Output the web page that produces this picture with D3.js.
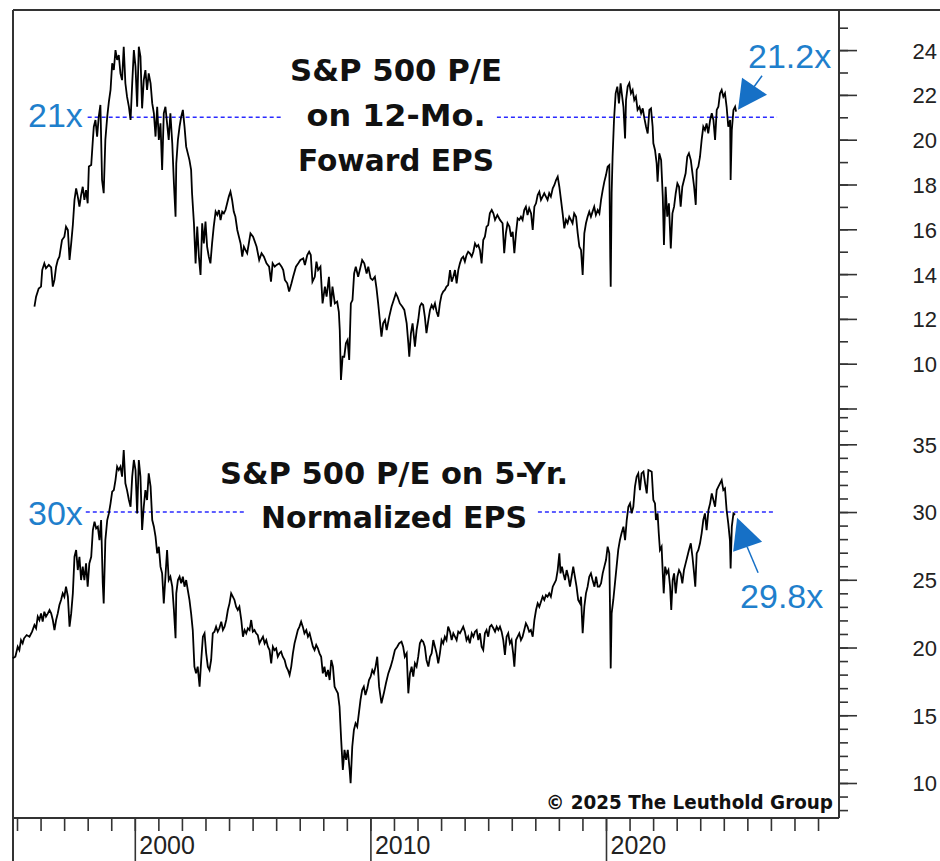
<!DOCTYPE html>
<html><head><meta charset="utf-8">
<script src="https://cdn.jsdelivr.net/npm/d3@7"></script>
<style>html,body{margin:0;padding:0;background:#fff}svg{display:block}</style>
</head><body>
<svg id="c" width="940" height="861"></svg>
<script>
// ---------------- DATA ----------------
// S&P 500 P/E on 12-month forward EPS: [decimal year, P/E]
const fwdPE = [
[1995.74,12.55],[1995.81,12.99],[1995.92,13.36],[1996.02,13.44],[1996.07,14.18],[1996.16,14.48],[1996.23,14.26],[1996.35,14.41],[1996.45,14.30],[1996.52,13.44],
[1996.59,13.74],[1996.66,14.33],[1996.73,14.63],[1996.80,14.78],[1996.91,15.52],[1997.01,15.67],[1997.08,16.12],[1997.16,15.97],[1997.23,14.63],[1997.30,15.37],
[1997.37,16.19],[1997.44,17.31],[1997.51,17.83],[1997.58,17.46],[1997.65,17.01],[1997.72,17.53],[1997.79,17.90],[1997.86,17.31],[1997.93,17.75],[1998.00,17.16],
[1998.05,18.80],[1998.15,18.87],[1998.22,19.99],[1998.26,20.58],[1998.33,20.88],[1998.40,20.14],[1998.47,21.03],[1998.54,21.55],[1998.61,18.20],[1998.68,17.61],
[1998.75,19.99],[1998.83,21.03],[1998.90,21.70],[1998.97,22.22],[1999.04,23.41],[1999.11,23.11],[1999.18,24.00],[1999.25,23.56],[1999.32,23.78],[1999.39,22.96],
[1999.46,22.66],[1999.53,24.15],[1999.60,22.52],[1999.67,21.92],[1999.75,21.47],[1999.82,20.88],[1999.89,22.52],[1999.96,24.00],[2000.03,23.26],[2000.10,21.47],
[2000.17,24.15],[2000.24,23.71],[2000.31,21.40],[2000.38,22.66],[2000.45,23.11],[2000.52,22.22],[2000.59,22.96],[2000.67,22.52],[2000.74,21.62],[2000.81,21.18],
[2000.88,20.14],[2000.95,21.47],[2001.02,19.99],[2001.09,20.73],[2001.16,18.65],[2001.23,21.18],[2001.30,21.47],[2001.37,20.73],[2001.44,19.99],[2001.51,21.18],
[2001.59,19.84],[2001.66,18.05],[2001.73,16.56],[2001.76,18.94],[2001.83,19.99],[2001.90,20.58],[2001.97,21.03],[2002.04,21.33],[2002.11,20.58],[2002.18,19.69],
[2002.25,19.39],[2002.32,19.09],[2002.39,18.65],[2002.43,17.61],[2002.51,16.27],[2002.58,14.48],[2002.65,16.12],[2002.72,14.78],[2002.79,13.96],[2002.86,16.27],
[2002.93,15.37],[2003.00,16.34],[2003.07,15.22],[2003.14,14.78],[2003.21,14.48],[2003.28,15.37],[2003.35,16.12],[2003.43,16.79],[2003.50,16.64],[2003.57,16.86],
[2003.64,16.41],[2003.71,16.79],[2003.78,16.71],[2003.85,16.86],[2003.92,17.16],[2003.99,17.46],[2004.06,17.68],[2004.13,17.31],[2004.20,16.79],[2004.27,16.56],
[2004.35,15.97],[2004.42,15.67],[2004.49,15.37],[2004.56,14.78],[2004.63,15.22],[2004.70,15.07],[2004.77,14.93],[2004.84,15.37],[2004.91,15.82],[2005.02,15.67],
[2005.17,15.22],[2005.28,14.63],[2005.38,14.93],[2005.48,14.78],[2005.59,14.48],[2005.70,14.33],[2005.78,13.66],[2005.85,14.48],[2005.94,14.33],[2006.02,14.41],
[2006.13,14.48],[2006.23,14.33],[2006.30,14.18],[2006.37,13.74],[2006.47,13.59],[2006.55,13.22],[2006.65,13.59],[2006.72,13.88],[2006.84,14.33],[2006.94,14.48],
[2007.03,14.63],[2007.15,14.70],[2007.22,14.41],[2007.32,14.85],[2007.40,15.00],[2007.47,14.85],[2007.54,13.66],[2007.64,13.88],[2007.71,14.56],[2007.78,14.18],
[2007.88,14.33],[2007.97,12.69],[2008.07,13.44],[2008.14,12.99],[2008.24,13.88],[2008.32,12.55],[2008.39,13.44],[2008.49,12.69],[2008.59,12.77],[2008.66,12.32],
[2008.70,11.50],[2008.75,9.27],[2008.82,10.31],[2008.89,10.31],[2008.96,10.91],[2009.03,11.06],[2009.10,10.17],[2009.17,12.69],[2009.24,12.84],[2009.31,14.03],
[2009.38,14.33],[2009.48,13.88],[2009.55,14.18],[2009.65,14.63],[2009.74,14.48],[2009.84,14.03],[2009.91,14.33],[2010.01,13.81],[2010.09,13.74],[2010.19,13.88],
[2010.26,13.36],[2010.33,12.69],[2010.40,11.95],[2010.47,11.21],[2010.54,11.80],[2010.62,11.95],[2010.69,11.50],[2010.80,12.10],[2010.90,12.55],[2010.99,12.84],
[2011.08,13.14],[2011.15,12.99],[2011.25,12.69],[2011.35,12.55],[2011.44,12.40],[2011.54,11.80],[2011.61,10.91],[2011.65,10.31],[2011.72,11.36],[2011.79,11.80],
[2011.89,10.76],[2011.96,11.50],[2012.03,11.95],[2012.10,12.55],[2012.17,12.69],[2012.24,12.62],[2012.31,12.10],[2012.38,11.36],[2012.46,11.95],[2012.53,12.40],
[2012.60,12.62],[2012.67,12.47],[2012.74,12.69],[2012.81,12.32],[2012.88,12.10],[2012.95,12.69],[2013.02,13.07],[2013.09,13.22],[2013.16,13.29],[2013.23,13.44],
[2013.30,13.51],[2013.38,14.18],[2013.45,13.66],[2013.52,13.88],[2013.59,14.18],[2013.66,13.59],[2013.73,14.18],[2013.80,14.48],[2013.87,14.70],[2013.94,14.78],
[2014.01,14.56],[2014.08,14.85],[2014.15,15.00],[2014.22,14.93],[2014.30,14.78],[2014.37,15.00],[2014.44,15.37],[2014.51,15.22],[2014.58,15.30],[2014.65,15.07],
[2014.72,14.48],[2014.79,15.52],[2014.86,15.67],[2014.93,16.12],[2015.00,16.19],[2015.07,16.71],[2015.15,16.86],[2015.22,16.71],[2015.29,16.42],[2015.39,16.64],
[2015.50,16.42],[2015.61,16.27],[2015.68,14.93],[2015.75,15.82],[2015.82,16.27],[2015.90,16.12],[2015.97,15.67],[2016.04,15.89],[2016.11,14.93],[2016.18,15.82],
[2016.25,16.49],[2016.32,16.42],[2016.39,16.56],[2016.46,16.42],[2016.53,16.86],[2016.60,17.01],[2016.67,16.64],[2016.74,16.94],[2016.82,16.71],[2016.89,15.97],
[2016.96,17.01],[2017.03,17.16],[2017.10,17.53],[2017.17,17.68],[2017.24,17.31],[2017.31,17.46],[2017.38,17.61],[2017.45,17.46],[2017.52,17.31],[2017.59,17.61],
[2017.66,17.46],[2017.74,17.83],[2017.81,17.98],[2017.88,18.20],[2017.95,18.35],[2018.02,17.90],[2018.09,17.31],[2018.16,16.71],[2018.23,16.04],[2018.30,16.42],
[2018.37,16.27],[2018.44,16.56],[2018.51,16.42],[2018.58,16.27],[2018.65,16.71],[2018.73,16.56],[2018.80,15.82],[2018.87,15.22],[2018.94,15.08],[2019.01,13.96],
[2019.08,15.82],[2019.15,16.27],[2019.22,16.56],[2019.29,16.79],[2019.36,16.56],[2019.43,16.79],[2019.50,17.01],[2019.57,16.64],[2019.65,16.86],[2019.72,16.71],
[2019.79,17.31],[2019.86,17.75],[2019.93,18.13],[2020.00,18.42],[2020.07,18.80],[2020.14,18.87],[2020.18,14.78],[2020.20,13.44],[2020.24,17.61],[2020.28,19.24],
[2020.34,20.88],[2020.41,22.07],[2020.48,22.37],[2020.55,21.62],[2020.62,22.52],[2020.67,22.07],[2020.74,21.47],[2020.81,20.06],[2020.85,21.77],[2020.92,22.37],
[2020.99,22.52],[2021.06,22.07],[2021.13,22.22],[2021.20,21.77],[2021.27,21.92],[2021.34,21.33],[2021.42,21.47],[2021.49,21.18],[2021.56,21.40],[2021.63,20.95],
[2021.70,20.58],[2021.77,20.28],[2021.84,21.33],[2021.91,21.40],[2021.98,20.58],[2022.01,19.84],[2022.08,19.54],[2022.15,18.94],[2022.19,18.13],[2022.26,19.39],
[2022.34,19.09],[2022.41,17.46],[2022.46,15.30],[2022.53,17.90],[2022.60,16.56],[2022.67,17.16],[2022.75,15.15],[2022.82,16.71],[2022.89,17.01],[2022.96,17.61],
[2023.03,18.05],[2023.10,17.90],[2023.17,17.01],[2023.24,17.90],[2023.31,18.20],[2023.38,18.50],[2023.45,19.24],[2023.52,19.39],[2023.60,19.09],[2023.67,18.50],
[2023.74,17.90],[2023.81,17.09],[2023.85,18.65],[2023.92,18.80],[2023.99,19.24],[2024.06,19.99],[2024.13,20.58],[2024.20,20.43],[2024.27,20.73],[2024.34,20.28],
[2024.42,20.88],[2024.49,21.18],[2024.56,20.88],[2024.63,19.99],[2024.70,21.33],[2024.77,21.47],[2024.84,22.07],[2024.91,22.22],[2024.98,21.92],[2025.05,22.07],
[2025.12,21.47],[2025.19,20.58],[2025.27,20.88],[2025.29,18.20],[2025.34,20.43],[2025.41,21.33],[2025.48,21.47],[2025.52,21.25]
];

// S&P 500 P/E on 5-year normalized EPS: [decimal year, P/E]
const normPE = [
[1994.82,19.20],[1994.93,19.32],[1995.03,20.06],[1995.10,19.81],[1995.17,20.55],[1995.24,20.31],[1995.30,20.68],[1995.41,20.92],[1995.53,20.80],[1995.64,21.17],
[1995.74,21.66],[1995.81,21.42],[1995.88,22.28],[1995.95,22.03],[1996.02,22.52],[1996.09,21.91],[1996.16,22.64],[1996.23,22.28],[1996.31,22.52],[1996.38,22.77],
[1996.45,22.52],[1996.52,22.03],[1996.59,21.29],[1996.66,22.03],[1996.73,22.52],[1996.80,23.14],[1996.87,23.51],[1996.94,24.00],[1997.01,23.75],[1997.08,24.49],
[1997.16,23.75],[1997.23,21.54],[1997.30,22.52],[1997.37,24.00],[1997.44,26.70],[1997.51,27.20],[1997.58,25.72],[1997.65,26.70],[1997.72,24.98],[1997.79,25.97],
[1997.86,24.98],[1997.93,26.21],[1998.00,24.49],[1998.07,26.21],[1998.15,26.70],[1998.22,28.67],[1998.29,29.29],[1998.36,28.79],[1998.43,28.92],[1998.50,27.93],
[1998.57,29.41],[1998.64,24.74],[1998.68,23.26],[1998.75,27.93],[1998.83,29.41],[1998.90,29.90],[1998.97,30.64],[1999.04,31.50],[1999.11,31.62],[1999.18,32.36],
[1999.25,33.35],[1999.32,33.10],[1999.39,33.35],[1999.46,32.61],[1999.53,34.58],[1999.60,32.12],[1999.67,31.62],[1999.75,30.89],[1999.82,30.39],[1999.89,32.61],
[1999.96,33.84],[2000.03,33.10],[2000.10,29.90],[2000.17,33.84],[2000.24,32.61],[2000.31,28.67],[2000.38,30.39],[2000.45,31.62],[2000.52,30.89],[2000.59,32.85],
[2000.67,31.87],[2000.74,29.41],[2000.81,28.92],[2000.88,28.18],[2000.95,26.95],[2001.02,27.44],[2001.09,25.97],[2001.16,25.47],[2001.23,23.26],[2001.30,25.23],
[2001.37,27.20],[2001.44,24.98],[2001.51,25.23],[2001.59,24.49],[2001.66,22.77],[2001.73,20.68],[2001.76,24.00],[2001.83,24.98],[2001.90,25.23],[2001.97,24.74],
[2002.04,25.23],[2002.11,24.49],[2002.18,24.98],[2002.25,24.24],[2002.32,23.51],[2002.39,22.52],[2002.46,21.29],[2002.53,18.59],[2002.60,18.09],[2002.67,18.59],
[2002.75,17.11],[2002.82,19.08],[2002.89,20.80],[2002.96,21.05],[2003.03,19.57],[2003.10,18.59],[2003.17,18.34],[2003.24,19.08],[2003.31,21.05],[2003.38,21.17],
[2003.45,21.54],[2003.52,21.17],[2003.59,21.42],[2003.67,21.91],[2003.74,21.29],[2003.81,21.54],[2003.88,22.03],[2003.95,22.77],[2004.02,23.26],[2004.09,24.00],
[2004.16,23.75],[2004.23,23.51],[2004.30,23.01],[2004.37,22.77],[2004.44,23.01],[2004.52,22.03],[2004.59,20.80],[2004.66,21.29],[2004.73,21.05],[2004.80,21.42],
[2004.87,21.29],[2004.94,22.03],[2005.01,21.17],[2005.08,21.29],[2005.15,21.05],[2005.22,20.92],[2005.29,20.31],[2005.36,20.55],[2005.44,20.80],[2005.51,20.31],
[2005.58,20.55],[2005.65,20.06],[2005.72,19.81],[2005.79,18.83],[2005.86,20.06],[2005.93,19.81],[2006.00,19.94],[2006.07,19.32],[2006.14,19.57],[2006.21,19.69],
[2006.28,19.32],[2006.36,19.08],[2006.43,18.59],[2006.50,18.34],[2006.57,17.97],[2006.64,18.59],[2006.71,19.57],[2006.78,20.31],[2006.85,20.80],[2006.92,21.29],
[2006.99,21.54],[2007.06,21.91],[2007.13,21.54],[2007.20,21.05],[2007.28,21.29],[2007.35,20.80],[2007.42,21.05],[2007.49,20.55],[2007.56,20.06],[2007.63,19.81],
[2007.70,20.19],[2007.77,19.94],[2007.84,19.57],[2007.91,19.32],[2007.98,18.09],[2008.05,18.59],[2008.12,17.85],[2008.20,18.34],[2008.27,17.60],[2008.34,19.08],
[2008.41,18.59],[2008.48,17.11],[2008.55,16.86],[2008.62,16.62],[2008.69,15.63],[2008.76,13.17],[2008.83,10.96],[2008.90,12.44],[2008.97,11.70],[2009.04,12.44],
[2009.12,10.96],[2009.16,9.98],[2009.23,12.68],[2009.30,13.91],[2009.37,14.40],[2009.44,14.16],[2009.51,15.14],[2009.58,16.13],[2009.65,16.86],[2009.72,17.11],
[2009.79,16.49],[2009.87,16.99],[2009.94,17.60],[2010.01,17.85],[2010.08,18.34],[2010.15,18.09],[2010.22,18.59],[2010.29,19.32],[2010.37,17.11],[2010.47,15.88],
[2010.57,16.62],[2010.66,17.36],[2010.76,18.09],[2010.86,18.59],[2010.94,19.08],[2011.04,19.81],[2011.14,20.06],[2011.22,20.31],[2011.32,20.43],[2011.39,20.06],
[2011.46,19.32],[2011.54,19.57],[2011.61,16.62],[2011.68,18.09],[2011.75,18.59],[2011.82,17.85],[2011.89,18.83],[2011.96,18.59],[2012.03,19.32],[2012.10,20.31],
[2012.17,20.55],[2012.24,20.43],[2012.31,20.06],[2012.38,19.08],[2012.46,18.59],[2012.53,19.32],[2012.60,19.57],[2012.67,20.55],[2012.74,20.06],[2012.81,19.57],
[2012.88,18.83],[2012.95,19.57],[2013.02,20.55],[2013.09,20.31],[2013.16,20.80],[2013.23,20.55],[2013.30,21.54],[2013.38,21.17],[2013.45,20.55],[2013.52,21.05],
[2013.59,20.80],[2013.66,20.55],[2013.73,21.17],[2013.80,21.05],[2013.87,21.29],[2013.94,21.54],[2014.01,21.17],[2014.08,20.55],[2014.15,20.80],[2014.22,20.31],
[2014.30,21.05],[2014.37,20.80],[2014.44,21.17],[2014.51,21.29],[2014.58,20.55],[2014.65,21.05],[2014.72,20.06],[2014.79,19.81],[2014.86,21.05],[2014.93,21.29],
[2015.00,20.80],[2015.07,21.54],[2015.14,21.66],[2015.22,21.42],[2015.29,21.17],[2015.36,21.54],[2015.43,21.29],[2015.50,21.54],[2015.57,21.17],[2015.64,20.55],
[2015.71,19.45],[2015.78,20.80],[2015.85,21.05],[2015.92,20.31],[2015.99,20.55],[2016.06,19.57],[2016.11,18.59],[2016.18,20.55],[2016.25,20.80],[2016.32,21.05],
[2016.39,20.55],[2016.46,20.80],[2016.53,21.29],[2016.60,21.78],[2016.67,21.54],[2016.74,21.17],[2016.81,21.29],[2016.89,20.80],[2016.96,22.03],[2017.03,22.77],
[2017.10,23.26],[2017.17,23.01],[2017.24,23.38],[2017.31,23.75],[2017.38,23.51],[2017.45,23.87],[2017.52,23.75],[2017.59,24.00],[2017.66,23.75],[2017.74,24.49],
[2017.81,24.74],[2017.88,24.98],[2017.95,25.72],[2018.02,26.95],[2018.07,25.47],[2018.13,25.97],[2018.19,25.47],[2018.26,24.98],[2018.33,25.72],[2018.40,25.23],
[2018.47,24.49],[2018.54,25.23],[2018.61,25.97],[2018.68,25.23],[2018.75,24.49],[2018.82,23.51],[2018.90,23.26],[2018.94,23.75],[2019.01,21.05],[2019.08,23.01],
[2019.15,24.00],[2019.22,24.49],[2019.29,25.23],[2019.36,25.47],[2019.43,24.98],[2019.51,24.49],[2019.58,25.23],[2019.65,24.49],[2019.72,24.49],[2019.79,24.74],
[2019.86,25.47],[2019.93,25.97],[2020.00,26.46],[2020.07,27.44],[2020.14,26.95],[2020.17,23.01],[2020.20,18.46],[2020.24,22.52],[2020.31,23.51],[2020.38,24.74],
[2020.45,25.97],[2020.52,27.20],[2020.59,27.93],[2020.66,28.43],[2020.74,28.92],[2020.81,27.93],[2020.88,29.41],[2020.95,30.39],[2021.02,30.64],[2021.09,29.90],
[2021.16,30.39],[2021.23,31.87],[2021.30,32.61],[2021.37,32.85],[2021.44,31.62],[2021.51,32.85],[2021.59,32.98],[2021.66,32.12],[2021.73,31.38],[2021.80,33.10],
[2021.87,33.05],[2021.94,32.98],[2022.01,30.89],[2022.08,30.64],[2022.12,29.41],[2022.19,29.90],[2022.24,28.43],[2022.29,27.20],[2022.36,27.44],[2022.41,25.47],
[2022.45,24.00],[2022.51,25.97],[2022.58,25.47],[2022.65,25.72],[2022.72,24.49],[2022.77,22.77],[2022.83,24.98],[2022.89,25.47],[2022.96,24.00],[2023.03,25.23],
[2023.10,25.72],[2023.17,25.47],[2023.24,24.74],[2023.31,25.72],[2023.38,26.21],[2023.45,26.70],[2023.52,27.20],[2023.60,27.69],[2023.67,26.70],[2023.74,25.47],
[2023.79,24.49],[2023.85,26.95],[2023.92,27.20],[2023.99,27.69],[2024.06,28.43],[2024.13,29.41],[2024.20,29.90],[2024.27,28.67],[2024.35,30.15],[2024.42,30.64],
[2024.49,31.38],[2024.56,30.89],[2024.63,30.39],[2024.70,31.62],[2024.77,31.87],[2024.84,32.12],[2024.91,32.36],[2024.98,31.62],[2025.05,31.75],[2025.12,30.15],
[2025.19,29.16],[2025.26,27.93],[2025.29,25.84],[2025.34,28.92],[2025.41,29.90],[2025.48,29.80]
];

// Axis ticks / labels
const topMinorTicks = d3.range(8, 26);            // 8 .. 25
const topMajorTicks = [8, 10, 12, 14, 16, 18, 20, 22, 24];
const topTickLabels = [10, 12, 14, 16, 18, 20, 22, 24];
const botMinorTicks = d3.range(8, 38);            // 8 .. 37
const botMajorTicks = [10, 15, 20, 25, 30, 35];
const botTickLabels = [10, 15, 20, 25, 30, 35];
const yearTicks = d3.range(1995, 2030);
const yearLabels = [2000, 2010, 2020];

// Reference levels & annotations
const fwdRef = 21, normRef = 30;
const fwdRefSpans = [[1998.0, 2006.28], [2015.37, 2027.26]];
const normRefSpans = [[1997.92, 2004.71], [2017.11, 2027.18]];
const fwdRefLabel = "21x", normRefLabel = "30x";
const fwdLastLabel = "21.2x", normLastLabel = "29.8x";
const fwdTitle = ["S&P 500 P/E", "on 12-Mo.", "Foward EPS"];
const normTitle = ["S&P 500 P/E on 5-Yr.", "Normalized EPS"];
const copyright = "\u00A9 2025 The Leuthold Group";

// ---------------- LAYOUT ----------------
const L = 13, R = 839, T = 10, B = 818;
const AX = "#333", LBL = "#222", BLUE_T = "#1f7fcc", BLUE_F = "#1670c6", DASH = "#2a2aff";

const svg = d3.select("#c");
const x = d3.scaleLinear().domain([1994.83, 2029.89]).range([L, R]);
const yT = d3.scaleLinear().domain([8, 25]).range([408.5, 27.7]);
const yB = d3.scaleLinear().domain([10, 35]).range([783, 444.3]);

// frame
const frame = svg.append("g").attr("stroke", AX).attr("stroke-width", 2).attr("fill", "none");
frame.append("line").attr("x1", L).attr("y1", T).attr("x2", 940).attr("y2", T);
frame.append("line").attr("x1", L).attr("y1", T).attr("x2", L).attr("y2", 861);
frame.append("line").attr("x1", R).attr("y1", T).attr("x2", R).attr("y2", B);
frame.append("line").attr("x1", L).attr("y1", B).attr("x2", R).attr("y2", B);

// right axes
function rightAxis(scale, ticks, size, labels) {
  const g = svg.append("g").attr("transform", `translate(${R},0)`)
    .call(d3.axisRight(scale).tickValues(ticks).tickSize(size).tickPadding(4)
      .tickFormat(d => labels.includes(d) ? d3.format("d")(d) : ""));
  g.select(".domain").remove();
  g.selectAll(".tick line").attr("stroke", AX).attr("stroke-width", 1.6);
  g.selectAll(".tick text").attr("x", 98).attr("text-anchor", "end").attr("dy", "0.36em")
    .attr("fill", LBL).style("font-family", "'Liberation Sans', Arial, sans-serif").style("font-size", "22px");
  return g;
}
rightAxis(yT, topMinorTicks, 9, []);
rightAxis(yT, topMajorTicks, 18, topTickLabels);
rightAxis(yB, botMinorTicks, 9, []);
rightAxis(yB, botMajorTicks, 18, botTickLabels);

// bottom axis
const gxMinor = svg.append("g").attr("transform", `translate(0,${B})`)
  .call(d3.axisBottom(x).tickValues(yearTicks).tickSize(13).tickFormat(""));
gxMinor.select(".domain").remove();
gxMinor.selectAll(".tick line").attr("stroke", AX).attr("stroke-width", 1.6);
const gxMajor = svg.append("g").attr("transform", `translate(0,${B})`)
  .call(d3.axisBottom(x).tickValues(yearLabels).tickSize(43).tickFormat(d3.format("d")));
gxMajor.select(".domain").remove();
gxMajor.selectAll(".tick line").attr("stroke", AX).attr("stroke-width", 1.6);
gxMajor.selectAll(".tick text").attr("x", 4).attr("y", 36).attr("dy", 0).attr("text-anchor", "start")
  .attr("fill", LBL).style("font-family", "'Liberation Sans', Arial, sans-serif").style("font-size", "25px");

// reference dashed lines
function refLines(spans, yv, scale) {
  svg.append("g").selectAll("line").data(spans).join("line")
    .attr("x1", d => x(d[0])).attr("x2", d => x(d[1]))
    .attr("y1", scale(yv)).attr("y2", scale(yv))
    .attr("stroke", DASH).attr("stroke-width", 1.4).attr("stroke-dasharray", "4,3");
}
refLines(fwdRefSpans, fwdRef, yT);
refLines(normRefSpans, normRef, yB);

// series lines
const lineT = d3.line().x(d => x(d[0])).y(d => yT(d[1]));
const lineB = d3.line().x(d => x(d[0])).y(d => yB(d[1]));
svg.append("path").datum(fwdPE).attr("d", lineT).attr("fill", "none")
  .attr("stroke", "#000").attr("stroke-width", 1.8).attr("stroke-linejoin", "miter");
svg.append("path").datum(normPE).attr("d", lineB).attr("fill", "none")
  .attr("stroke", "#000").attr("stroke-width", 1.8).attr("stroke-linejoin", "miter");

// titles
const titleFont = "'DejaVu Sans', sans-serif";
const tt = svg.append("g").attr("font-family", titleFont).attr("font-weight", "bold")
  .attr("font-size", 31).attr("fill", "#111").attr("text-anchor", "middle");
const fwdTitleLen = [212, 179, 196], fwdTitleY = [81, 126, 171];
fwdTitle.forEach((t, i) => tt.append("text").attr("x", 396).attr("y", fwdTitleY[i])
  .attr("textLength", fwdTitleLen[i]).attr("lengthAdjust", "spacingAndGlyphs").text(t));
const normTitleLen = [348, 266], normTitleY = [484, 528];
normTitle.forEach((t, i) => tt.append("text").attr("x", 394).attr("y", normTitleY[i])
  .attr("textLength", normTitleLen[i]).attr("lengthAdjust", "spacingAndGlyphs").text(t));

// blue annotations
const ann = svg.append("g").attr("font-family", "'Liberation Sans', Arial, sans-serif")
  .attr("font-size", 34).attr("fill", BLUE_T);
ann.append("text").attr("x", 28).attr("y", yT(fwdRef) + 10).text(fwdRefLabel);
ann.append("text").attr("x", 28).attr("y", yB(normRef) + 13).text(normRefLabel);

const lastT = fwdPE[fwdPE.length - 1], lastB = normPE[normPE.length - 1];
const pT = [x(lastT[0]), yT(lastT[1])], pB = [x(lastB[0]), yB(lastB[1])];

ann.append("text").attr("x", pT[0] + 12).attr("y", pT[1] - 44).text(fwdLastLabel);
ann.append("text").attr("x", pB[0] + 5).attr("y", pB[1] + 93).text(normLastLabel);

// arrows
svg.append("line").attr("x1", pT[0] + 26).attr("y1", pT[1] - 36).attr("x2", pT[0] + 18).attr("y2", pT[1] - 25)
  .attr("stroke", BLUE_F).attr("stroke-width", 1.5);
svg.append("path").attr("d", d3.line()([[pT[0] + 2, pT[1] - 2], [pT[0] + 6, pT[1] - 34], [pT[0] + 31, pT[1] - 17]]) + "Z")
  .attr("fill", BLUE_F);
svg.append("line").attr("x1", pB[0] + 23).attr("y1", pB[1] + 58).attr("x2", pB[0] + 12).attr("y2", pB[1] + 32)
  .attr("stroke", BLUE_F).attr("stroke-width", 1.5);
svg.append("path").attr("d", d3.line()([[pB[0] + 2, pB[1] + 3], [pB[0] + 27, pB[1] + 27], [pB[0] - 2, pB[1] + 37]]) + "Z")
  .attr("fill", BLUE_F);

// copyright
svg.append("text").attr("x", 833).attr("y", 809).attr("text-anchor", "end")
  .attr("font-family", titleFont).attr("font-weight", "bold").attr("font-size", 19)
  .attr("fill", "#111").attr("textLength", 287).attr("lengthAdjust", "spacingAndGlyphs").text(copyright);
</script>
</body></html>
